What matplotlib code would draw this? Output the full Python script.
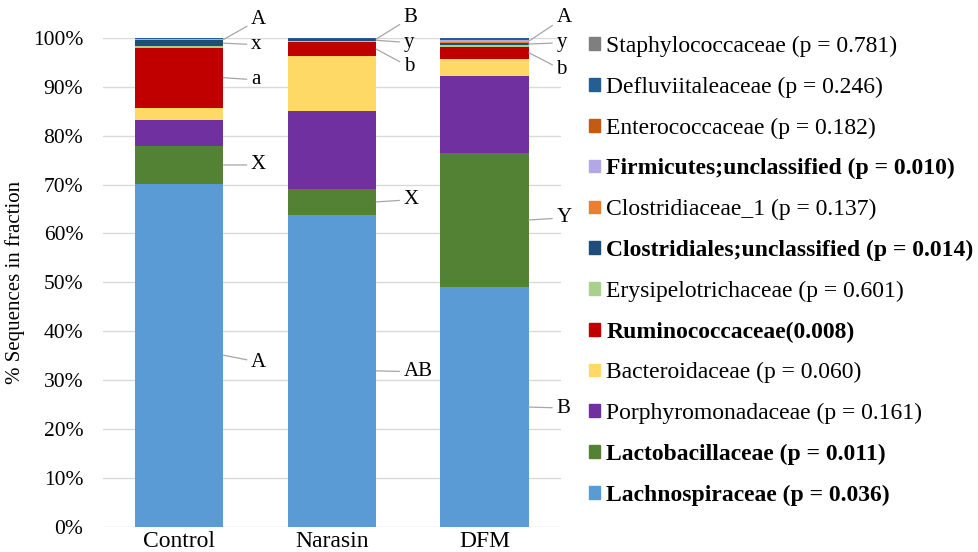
import matplotlib.pyplot as plt
from matplotlib.patches import Patch
from matplotlib.ticker import PercentFormatter
import numpy as np

plt.rcParams['font.family'] = ['Liberation Serif', 'DejaVu Serif']

groups = ["Control", "Narasin", "DFM"]

# families, bottom of the stack first
families = [
    "Lachnospiraceae (p = 0.036)",
    "Lactobacillaceae (p = 0.011)",
    "Porphyromonadaceae (p = 0.161)",
    "Bacteroidaceae (p = 0.060)",
    "Ruminococcaceae(0.008)",
    "Erysipelotrichaceae (p = 0.601)",
    "Clostridiales;unclassified (p = 0.014)",
    "Clostridiaceae_1 (p = 0.137)",
    "Firmicutes;unclassified (p = 0.010)",
    "Enterococcaceae (p = 0.182)",
    "Defluviitaleaceae (p = 0.246)",
    "Staphylococcaceae (p = 0.781)",
]
significant = [True, True, False, False, True, False, True, False, True, False, False, False]
colors = ["#5B9BD5", "#548235", "#7030A0", "#FFD966", "#C00000", "#A9D18E",
          "#1F4E79", "#ED7D31", "#B4A7E5", "#C55A11", "#255E91", "#7F7F7F"]

# % of sequences, one list per family: Control, Narasin, DFM
lachno = [70.2, 63.8, 49.0]
lacto = [7.6, 5.3, 27.5]
porphyro = [5.3, 16.0, 15.6]
bacteroid = [2.6, 11.2, 3.6]
rumino = [12.3, 2.8, 2.5]
erysipelo = [0.3, 0.2, 0.35]
clostridiales_unc = [1.2, 0.4, 0.35]
clostridiaceae_1 = [0.05, 0.02, 0.25]
firmicutes_unc = [0.2, 0.05, 0.35]
enterococc = [0.03, 0.03, 0.15]
defluvi = [0.2, 0.15, 0.25]
staphylo = [0.02, 0.05, 0.1]

values = np.array([lachno, lacto, porphyro, bacteroid, rumino, erysipelo,
                   clostridiales_unc, clostridiaceae_1, firmicutes_unc,
                   enterococc, defluvi, staphylo])

# significance letters: (family index, letter per group)
letters = [
    (8, ["A", "B", "A"]),
    (6, ["x", "y", "y"]),
    (4, ["a", "b", "b"]),
    (1, ["X", "X", "Y"]),
    (0, ["A", "AB", "B"]),
]
# where the letters sit (y in %), per group
letter_y = [
    [103.7, 98.6, 91.4, 74.0, 33.7],
    [104.1, 99.0, 94.1, 66.9, 31.7],
    [104.1, 99.0, 93.5, 63.2, 24.3],
]

fig = plt.figure(figsize=(9.79, 5.52), dpi=100)
ax = fig.add_axes([0.105, 0.0455, 0.468, 0.886])

x = np.arange(len(groups))
width = 0.58
bottom = np.zeros(len(groups))
for i in range(len(families)):
    ax.bar(x, values[i], width, bottom=bottom, color=colors[i], label=families[i], zorder=3)
    bottom += values[i]

ax.set_xlim(-0.5, 2.5)
ax.set_ylim(0, 100)
ax.set_yticks(np.arange(0, 101, 10))
ax.yaxis.set_major_formatter(PercentFormatter(decimals=0))
ax.grid(axis="y", color="#D9D9D9", lw=1, zorder=0)
for s in ax.spines.values():
    s.set_visible(False)
ax.tick_params(length=0)
ax.tick_params(axis="y", labelsize=15.5, pad=14)
ax.tick_params(axis="x", labelsize=17, pad=3)
ax.set_xticks(x)
ax.set_xticklabels(groups)
ax.set_ylabel("% Sequences in fraction", fontsize=15, labelpad=6)

# letters with leader lines
cum = np.cumsum(values, axis=0)
for g in range(len(groups)):
    for k, (fi, labs) in enumerate(letters):
        mid = cum[fi, g] - values[fi, g] / 2
        ax.annotate(labs[g], xy=(g + width / 2, mid), xytext=(g + 0.47, letter_y[g][k]),
                    ha="left", va="center", fontsize=15, annotation_clip=False,
                    arrowprops=dict(arrowstyle="-", color="#A6A6A6", lw=0.9,
                                    shrinkA=1, shrinkB=0))

handles = [Patch(color=colors[i], label=families[i]) for i in range(len(families))][::-1]
leg = fig.legend(handles=handles, loc="upper left", bbox_to_anchor=(0.592, 0.952),
                 frameon=False, fontsize=17, handlelength=0.45, handleheight=0.45,
                 handletextpad=0.28, labelspacing=0.83, borderaxespad=0)
for t, sig in zip(leg.get_texts(), significant[::-1]):
    if sig:
        t.set_fontweight("bold")

fig.savefig("out.png", dpi=100)
